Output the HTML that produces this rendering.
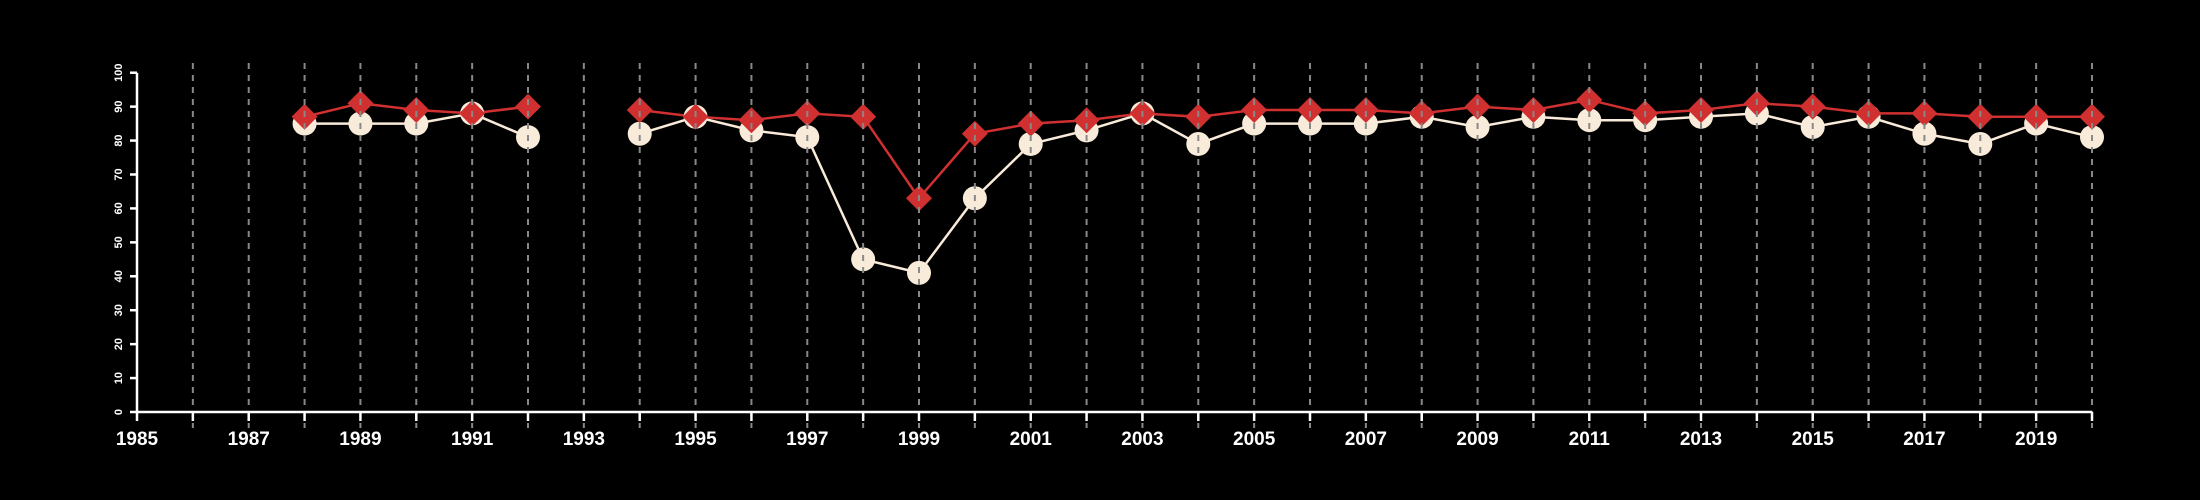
<!DOCTYPE html>
<html><head><meta charset="utf-8"><style>html,body{margin:0;background:#000;}svg{display:block}</style></head>
<body>
<svg id="chart" width="2200" height="500" xmlns="http://www.w3.org/2000/svg" style="background:#000;font-family:'Liberation Sans',sans-serif">
<g id="series"></g>
<g id="grid"></g>
<g id="axes"></g>
</svg>
<script>
const years=[1988,1989,1990,1991,1992,1993,1994,1995,1996,1997,1998,1999,2000,2001,2002,2003,2004,2005,2006,2007,2008,2009,2010,2011,2012,2013,2014,2015,2016,2017,2018,2019,2020];
const redValues=[87,91,89,88,90,null,89,87,86,88,87,63,82,85,86,88,87,89,89,89,88,90,89,92,88,89,91,90,88,88,87,87,87];
const whiteValues=[85,85,85,88,81,null,82,87,83,81,45,41,63,79,83,88,79,85,85,85,87,84,87,86,86,87,88,84,87,82,79,85,81];
const yTicks=[0,10,20,30,40,50,60,70,80,90,100];
const xTickLabels=[1985,1987,1989,1991,1993,1995,1997,1999,2001,2003,2005,2007,2009,2011,2013,2015,2017,2019];
const NS='http://www.w3.org/2000/svg';
const x0=137,x1=2092,yr0=1985,yr1=2020,yb=412,yt=72.7;
const xs=v=>x0+(v-yr0)*(x1-x0)/(yr1-yr0);
const ys=v=>yb-v*(yb-yt)/100;
function mk(t,a,p){const e=document.createElementNS(NS,t);for(const k in a)e.setAttribute(k,a[k]);p.appendChild(e);return e;}
const S=document.getElementById('series'),G=document.getElementById('grid'),A=document.getElementById('axes');
function drawLine(vals,color,name){
  let seg=[];const segs=[];
  vals.forEach((v,i)=>{if(v==null){if(seg.length)segs.push(seg);seg=[];}else seg.push(xs(years[i])+','+ys(v));});
  if(seg.length)segs.push(seg);
  segs.forEach(s=>{const p=mk('polyline',{points:s.join(' '),fill:'none',stroke:color,'stroke-width':2.5},S);
    
    });
}
drawLine(whiteValues,'#f9ebd9','white-series');
drawLine(redValues,'#d03030','red-series');
whiteValues.forEach((v,i)=>{if(v==null)return;const c=mk('circle',{cx:xs(years[i]),cy:ys(v),r:12,fill:'#f9ebd9'},S);
  
  });
redValues.forEach((v,i)=>{if(v==null)return;const cx=xs(years[i]),cy=ys(v),h=13;
  const d=mk('polygon',{points:`${cx},${cy-h} ${cx+h},${cy} ${cx},${cy+h} ${cx-h},${cy}`,fill:'#d03030'},S);
  
  });
for(let y=1986;y<=2020;y++){const l=mk('line',{x1:xs(y),x2:xs(y),y1:63,y2:428,stroke:'#888','stroke-width':2,'stroke-dasharray':'6,6'},G);
  
  }
const xa=mk('line',{x1:x0,x2:x1,y1:yb,y2:yb,stroke:'#fff','stroke-width':2.5},A);


for(let y=1985;y<=2020;y++){const t=mk('line',{x1:xs(y),x2:xs(y),y1:yb,y2:yb+9,stroke:'#fff','stroke-width':2.5},A);
  
  }
xTickLabels.forEach(y=>{const t=mk('text',{x:xs(y),y:yb+33,fill:'#fff','font-size':19,'font-weight':'bold','text-anchor':'middle'},A);t.textContent=y;
  
  });
const ya=mk('line',{x1:x0,x2:x0,y1:yt,y2:yb,stroke:'#fff','stroke-width':2.5},A);


yTicks.forEach(v=>{const t=mk('line',{x1:x0-7,x2:x0,y1:ys(v),y2:ys(v),stroke:'#fff','stroke-width':2.5},A);
  
  
  const tx=mk('text',{x:122,y:ys(v),fill:'#fff','font-size':11,'font-weight':'bold','text-anchor':'middle',transform:`rotate(-90 122 ${ys(v)})`},A);tx.textContent=v;
  
  });
</script>
</body></html>
